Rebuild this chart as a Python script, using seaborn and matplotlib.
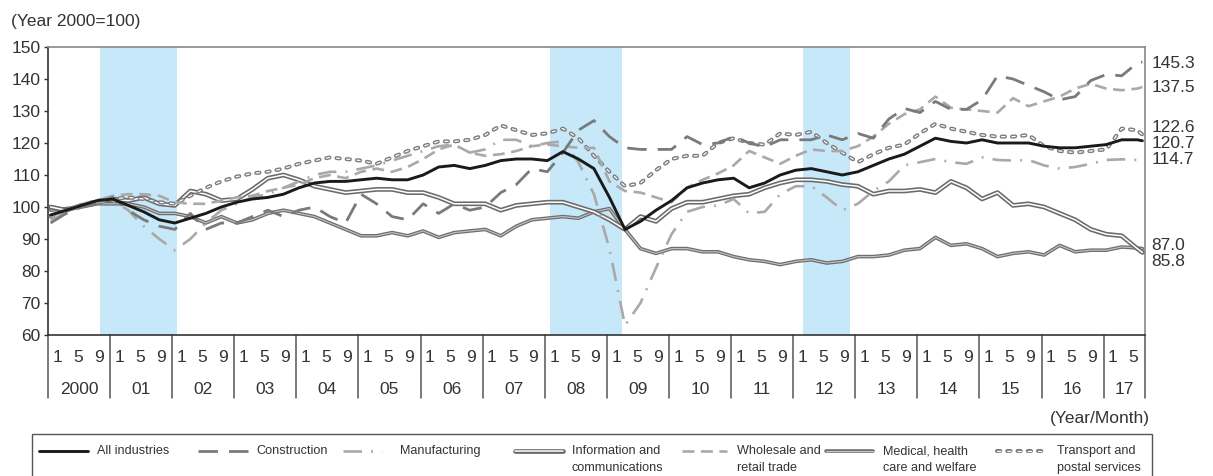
import pandas as pd
import seaborn as sns
import matplotlib.pyplot as plt
import matplotlib.patheffects as pe
import matplotlib.transforms as mtransforms
from matplotlib.patches import Rectangle

# month index (0 = Jan 2000), sampled every 3 months + last month (Aug 2017)
months = list(range(0, 211, 3)) + [211]

all_industries = [
    97.5, 99, 100.5, 102,
    102.5, 100.5, 98.5, 96,
    95, 96.5, 98, 100,
    101.5, 102.5, 103, 104,
    106, 107.5, 108, 108,
    108.5, 109, 108.5, 108.5,
    110, 112.5, 113, 112,
    113, 114.5, 115, 115,
    114.5, 117.3, 115, 112,
    103, 93, 95.5, 99,
    102, 106, 107.5, 108.5,
    109, 106, 107.5, 110,
    111.5, 112, 111, 110,
    111, 113, 115, 116.5,
    119, 121.5, 120.5, 120,
    121, 120, 120, 120,
    119, 118.5, 118.5, 119,
    119.5, 121, 121, 120.7]

construction = [
    95, 98, 100, 101,
    103, 99, 96, 94,
    93, 98, 93, 95,
    95, 97, 99, 97,
    99, 100, 97, 95,
    104, 101, 97, 96,
    101, 98, 101, 99,
    100, 104.5, 107, 112,
    111, 117, 124, 127,
    122, 118.5, 118, 118,
    118, 122, 119.5, 120,
    122, 120, 118.8, 121,
    121, 121, 122.5, 121,
    123, 121.5, 127.5, 130.8,
    129.5, 133, 130.5, 130.5,
    133.5, 141, 140, 138,
    136, 133.5, 134.5, 139.5,
    141.4, 141, 145, 145.3]

manufacturing = [
    96, 98, 100, 101.5,
    102, 99, 94, 90,
    86.5, 90, 95, 99,
    101, 103, 104, 106,
    108, 110, 111, 111,
    112, 113, 114.5, 116,
    117.5, 119, 119.5, 117,
    118, 121, 121, 119,
    120, 120.5, 114, 104,
    87, 63, 70, 81,
    91.5, 98.5, 100, 100.5,
    102.5, 98, 98.5, 104,
    106.5, 106.5, 103, 99,
    101, 105, 108, 113,
    114, 115, 114, 113.5,
    115.5, 114.7, 114.5, 114.7,
    113, 112, 112.5, 113.5,
    114.7, 114.9, 114.7, 114.7]

info_comm = [
    100, 99, 100.5, 101.5,
    102.5, 102, 103, 101,
    100.5, 105, 104, 102,
    102.5, 105.5, 109, 110,
    108.5, 106.5, 105.5, 104.5,
    105, 105.5, 105.5, 104.5,
    104.5, 103, 101, 101,
    101, 99, 100.5, 101,
    101.5, 101.5, 100, 98.5,
    96, 93, 97, 95.5,
    99.5, 101.5, 101.5, 102.5,
    103.5, 104, 106, 107.5,
    108.5, 108.5, 108, 107,
    106.5, 104, 105, 105,
    105.5, 104.5, 108, 106,
    102.5, 104.5, 100.5, 101,
    100, 98, 96, 93,
    91.5, 91, 87, 85.8]

wholesale = [
    97, 99, 101, 102,
    103.5, 104, 104, 103.5,
    101.5, 101, 101, 102,
    103, 103.5, 105, 106,
    107, 109, 110, 109,
    111, 112, 111, 112.5,
    115, 118, 119.5, 117,
    116, 116.5, 117.5, 119,
    119.5, 119, 118.5, 118.5,
    108, 105, 104.5, 103,
    101.5, 106, 108.5, 110.5,
    113, 117.5, 115.5, 113.5,
    116, 118, 117.5, 117.5,
    119, 122, 126, 129,
    130.5, 134.5, 131, 130.5,
    130, 129.5, 134, 131.5,
    133, 134.5, 137, 138.5,
    137, 136.5, 137, 137.5]

medical = [
    99, 99.5, 100, 101,
    101, 101, 100, 98,
    98, 97, 95, 97,
    95, 96, 98, 99,
    98, 97, 95, 93,
    91, 91, 92, 91,
    92.5, 90.5, 92, 92.5,
    93, 91, 94, 96,
    96.5, 97, 96.5, 98.5,
    99.5, 93, 87, 85.5,
    87, 87, 86, 86,
    84.5, 83.5, 83, 82,
    83, 83.5, 82.5, 83,
    84.5, 84.5, 85, 86.5,
    87, 90.5, 88, 88.5,
    87, 84.5, 85.5, 86,
    85, 88, 86, 86.5,
    86.5, 87.5, 87.2, 87.0]

transport = [
    97, 99, 100.5, 102,
    102.5, 103, 102.5, 101.5,
    101, 103.5, 106, 108,
    109.5, 110.5, 111, 112,
    113.5, 114.5, 115.5, 115,
    114.5, 113.5, 115.5, 117.5,
    119, 120.5, 120.5, 121,
    122.5, 125.5, 124, 122.5,
    123, 124.5, 121.5, 116,
    111, 106.5, 107.5, 111.5,
    115, 116, 116, 120,
    121.5, 120, 119.5, 123,
    122.5, 123.5, 120, 117,
    114, 116.5, 118.5, 119.5,
    123, 126, 124.5, 123.5,
    122.5, 122, 122, 122.5,
    119, 117.5, 117, 117.5,
    118, 124.5, 124, 122.6]

years = ['2000', '01', '02', '03', '04', '05', '06', '07', '08', '09',
         '10', '11', '12', '13', '14', '15', '16', '17']
month_ticks = ['1', '5', '9']
recessions = [(10, 25), (97, 111), (146, 155)]

W, H = 1213, 476
TXT = '#333333'

sns.set_theme(style='white')
plt.rcParams['font.family'] = ['Liberation Sans', 'DejaVu Sans']

STYLES = {
    'all': dict(color='#1a1a1a', lw=2.1),
    'con': dict(color='#7a7a7a', lw=2.0, dashes=(7, 4)),
    'man': dict(color='#a9a9a9', lw=1.9, dashes=(7, 3.5, 0.7, 3.5)),
    'inf': dict(color='white', lw=1.1, outline=('#6a6a6a', 3.4)),
    'who': dict(color='#a9a9a9', lw=1.9, dashes=(4.5, 2.5)),
    'med': dict(color='#c4c4c4', lw=0.8, outline=('#6e6e6e', 2.6)),
    'tra': dict(color='white', lw=0.9, dashes=(2.6, 5.6), outline=('#7c7c7c', 2.9), cap='round'),
}


def style_line(line, key):
    st = STYLES[key]
    line.set_color(st['color'])
    line.set_linewidth(st['lw'])
    if 'dashes' in st:
        line.set_dashes(st['dashes'])
        line.set_dash_capstyle(st.get('cap', 'butt'))
    if 'outline' in st:
        c, w = st['outline']
        line.set_path_effects([pe.Stroke(linewidth=w, foreground=c), pe.Normal()])


fig = plt.figure(figsize=(W / 100, H / 100), dpi=100)
ax = fig.add_axes([48 / W, 1 - 335 / H, (1145 - 48) / W, (335 - 47) / H])

for a, b in recessions:
    ax.axvspan(a, b, color='#c6e8f8', lw=0, zorder=0)

series = [
    ('med', medical), ('inf', info_comm), ('tra', transport), ('who', wholesale),
    ('man', manufacturing), ('con', construction), ('all', all_industries),
]
xs = [m + 0.5 for m in months]
for i, (key, vals) in enumerate(series):
    df = pd.DataFrame({'month': xs, 'index': vals})
    sns.lineplot(data=df, x='month', y='index', ax=ax, estimator=None, sort=False, zorder=3 + i)
    style_line(ax.lines[-1], key)

ax.set_xlabel('')
ax.set_ylabel('')
ax.set_xticks([])
ax.set_yticks(range(60, 151, 10))
ax.tick_params(axis='y', direction='out', length=3, width=1, color='#333333',
               labelsize=12.5, labelcolor=TXT, pad=2.5, left=True)
for s in ['left', 'bottom']:
    ax.spines[s].set_color('#333333')
    ax.spines[s].set_linewidth(1.2)
for s in ['top', 'right']:
    ax.spines[s].set_color('#888888')
    ax.spines[s].set_linewidth(1.2)

# two-row x axis: months and years with separators
trans = mtransforms.blended_transform_factory(ax.transData, ax.transAxes)
for k in range(len(years)):
    ax.plot([12 * k, 12 * k], [0, -0.22], transform=trans, clip_on=False, color='#555555', lw=1.1)
    end = min(12 * (k + 1), 212)
    ax.text((12 * k + end) / 2, -0.1875, years[k], transform=trans, ha='center', va='center',
            fontsize=12.5, color=TXT)
    for m in month_ticks:
        x = 12 * k + int(m) + 0.8
        if x < 212:
            ax.text(x, -0.079, m, transform=trans, ha='center', va='center', fontsize=12.5, color=TXT)
ax.plot([212, 212], [0, -0.22], transform=trans, clip_on=False, color='#555555', lw=1.1)

# end-of-series value labels
end_labels = [(construction, 144.9), (wholesale, 137.3), (transport, 124.8), (all_industries, 119.9),
              (manufacturing, 114.7), (medical, 87.9), (info_comm, 82.9)]
for vals, ypos in end_labels:
    ax.text(1.006, ypos, f'{vals[-1]:.1f}', transform=mtransforms.blended_transform_factory(ax.transAxes, ax.transData),
            ha='left', va='center', fontsize=12.5, color=TXT, clip_on=False)

ax.set_xlim(0, 212)
ax.set_ylim(60, 150)

fig.text(11 / W, 1 - 21.5 / H, '(Year 2000=100)', ha='left', va='center', fontsize=12.5, color=TXT)
fig.text(1150 / W, 1 - 418 / H, '(Year/Month)', ha='right', va='center', fontsize=12.5, color=TXT)

# legend box drawn in pixel coordinates
lg = fig.add_axes([0, 0, 1, 1], zorder=10)
lg.set_xlim(0, W)
lg.set_ylim(H, 0)
lg.axis('off')
lg.add_patch(Rectangle((31.7, 433.5), 1120, 44, fill=False, edgecolor='#555555', lw=1))
legend_items = [
    ('all', 39, 88, 97, ['All industries']),
    ('con', 198, 250, 256, ['Construction']),
    ('man', 343, 382, 400, ['Manufacturing']),
    ('inf', 515, 563, 572, ['Information and', 'communications']),
    ('who', 682, 727, 737, ['Wholesale and', 'retail trade']),
    ('med', 826, 873, 883, ['Medical, health', 'care and welfare']),
    ('tra', 997, 1043, 1057, ['Transport and', 'postal services']),
]
for key, x0, x1, tx, lines in legend_items:
    ln, = lg.plot([x0, x1], [451, 451])
    style_line(ln, key)
    for j, t in enumerate(lines):
        lg.text(tx, 451 + 17 * j, t, ha='left', va='center', fontsize=9.1, color=TXT)

fig.savefig('out.png', dpi=100)
